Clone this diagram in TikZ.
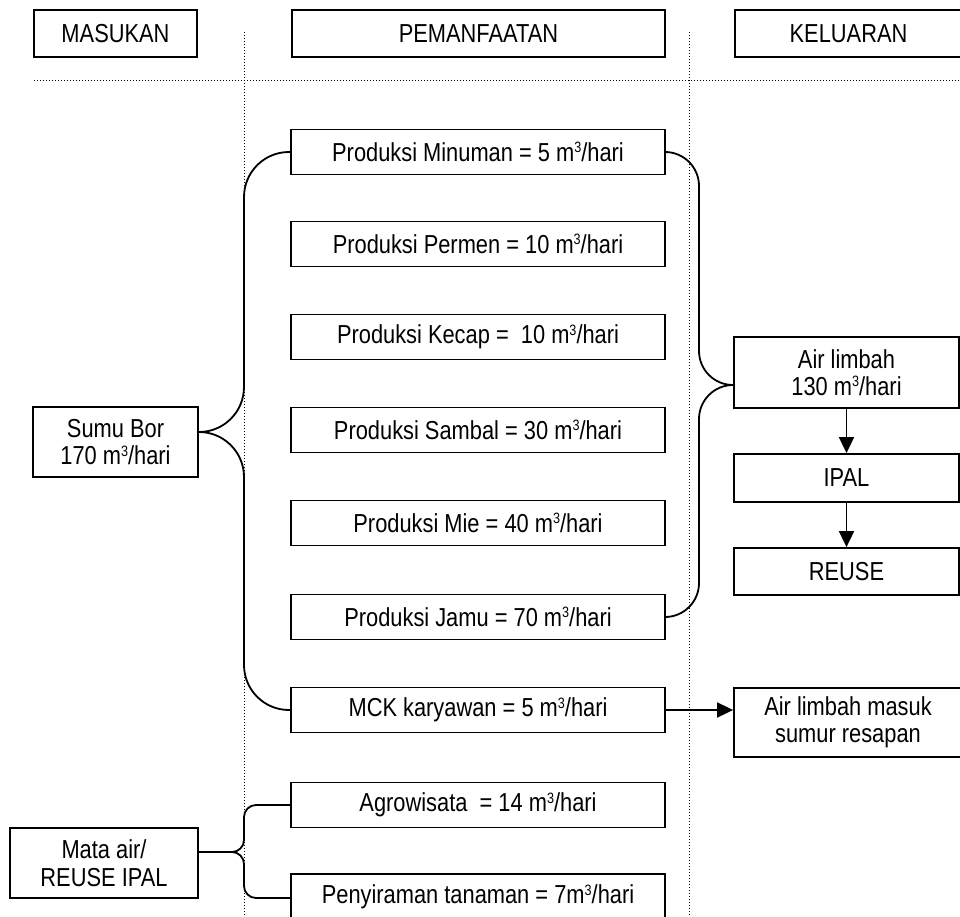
\documentclass[tikz,border=0pt]{standalone}
\usepackage{fontspec}
\setmainfont{Liberation Sans}[FakeStretch=0.84]
\usetikzlibrary{arrows.meta}

\tikzset{
  boxnode/.style={draw, line width=1.8pt, rectangle, inner sep=0pt, align=center,
    font=\fontsize{26}{27.5}\selectfont},
  midbox/.style={boxnode, minimum width=374pt, minimum height=45pt},
  rightbox/.style={boxnode, minimum width=225pt},
  link/.style={line width=1.8pt},
  sepline/.style={line width=1pt, dotted},
  flow/.style={line width=1.8pt, -{Triangle[length=16pt,width=15pt]}}
}
% small raised cubic-metre sign
\newcommand{\cub}{m\raisebox{0.33em}{\fontsize{15}{15}\selectfont 3}/hari}

\begin{document}
\begin{tikzpicture}[x=1pt, y=-1pt]
\useasboundingbox (0,0) rectangle (960,917);
\clip (0,0) rectangle (960,917);

% column separators
\draw[sepline] (34,81) -- (960,81);
\draw[sepline] (244,32) -- (244,917);
\draw[sepline] (689,32) -- (689,917);

% column headers
\node[boxnode, minimum width=163pt, minimum height=47pt] (hin) at (115.5,33.5) {MASUKAN};
\node[boxnode, minimum width=373pt, minimum height=47pt] (huse) at (478.5,33.5) {PEMANFAATAN};
\node[boxnode, minimum width=227pt, minimum height=47pt] (hout) at (848.5,33.5) {KELUARAN};

% sources
\node[boxnode, minimum width=165pt, minimum height=70pt] (sumur) at (115.5,442) {Sumu Bor\\170 \cub};
\node[boxnode, minimum width=188pt, minimum height=70pt] (mata) at (104,863) {Mata air/\\REUSE IPAL};

% uses
\node[midbox] (minum) at (478,152) {Produksi Minuman = 5 \cub};
\node[midbox] (permen) at (478,244) {Produksi Permen = 10 \cub};
\node[midbox] (kecap) at (478,337) {Produksi Kecap =~~10 \cub};
\node[midbox] (sambal) at (478,430) {Produksi Sambal = 30 \cub};
\node[midbox] (mie) at (478,523) {Produksi Mie = 40 \cub};
\node[midbox] (jamu) at (478,617) {Produksi Jamu = 70 \cub};
\node[midbox] (mck) at (478,710) {MCK karyawan = 5 \cub};
\node[midbox] (agro) at (478,805) {Agrowisata~~= 14 \cub};
\node[midbox, minimum height=46pt] (siram) at (478,897) {Penyiraman tanaman = 7\cub};

% outputs
\node[rightbox, minimum height=71pt] (limbah) at (846.5,372.5) {Air limbah\\130 \cub};
\node[rightbox, minimum height=48pt] (ipal) at (846.5,478) {IPAL};
\node[rightbox, minimum height=47pt] (reuse) at (846.5,571.5) {REUSE};
\node[boxnode, minimum width=228pt, minimum height=69pt] (resap) at (848,722.5) {Air limbah masuk\\sumur resapan};

% junction points
\coordinate (sumurJ) at (sumur.east |- 0,432);
\coordinate (limbahJ) at (limbah.west |- 0,385);
\coordinate (mataJ) at (mata.east |- 0,852);
\coordinate (siramJ) at (siram.west |- 0,898);

% well water to production lines
\draw[link, rounded corners=45pt] (sumurJ) -| (244,152) -- (minum.west);
\draw[link, rounded corners=45pt] (sumurJ) -| (244,710) -- (mck.west);

% waste water collection
\draw[link, rounded corners=34pt] (minum.east) -| (699,385) -- (limbahJ);
\draw[link, rounded corners=34pt] (jamu.east) -| (699,385) -- (limbahJ);

% spring / reuse water
\draw[link, rounded corners=12pt] (mataJ) -| (244,805) -- (agro.west);
\draw[link, rounded corners=12pt] (mataJ) -| (244,898) -- (siramJ);

% treatment chain
\draw[flow] (limbah) -- (ipal);
\draw[flow] (ipal) -- (reuse);
\draw[flow] (mck.east) -- (mck.east -| resap.west);
\end{tikzpicture}
\end{document}
